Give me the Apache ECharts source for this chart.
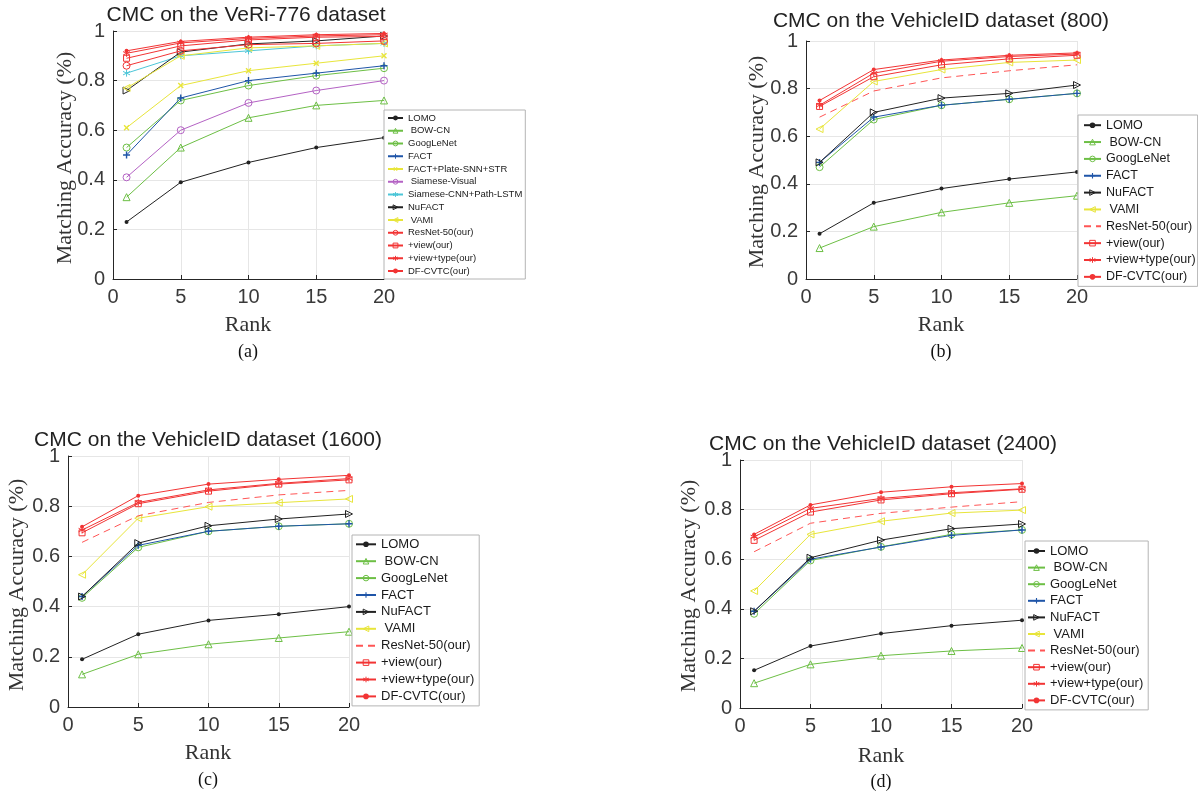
<!DOCTYPE html>
<html><head><meta charset="utf-8">
<script src="https://cdn.jsdelivr.net/npm/echarts@6/dist/echarts.min.js"></script>
<style>html,body{margin:0;padding:0;background:#fff}#c{width:1198px;height:796px}</style>
</head><body><div id="c"></div>
<script>
const ranks = [1, 5, 10, 15, 20];
const xTicks = [0, 5, 10, 15, 20];
const yTicks = [0, 0.2, 0.4, 0.6, 0.8, 1];

// (a) VeRi-776
const a_LOMO = [0.23, 0.39, 0.47, 0.53, 0.57];
const a_BOWCN = [0.33, 0.53, 0.65, 0.70, 0.72];
const a_GoogLeNet = [0.53, 0.72, 0.78, 0.82, 0.85];
const a_FACT = [0.50, 0.73, 0.80, 0.83, 0.86];
const a_FACTPlate = [0.61, 0.78, 0.84, 0.87, 0.90];
const a_SiameseVisual = [0.41, 0.60, 0.71, 0.76, 0.80];
const a_SiameseCNN = [0.83, 0.90, 0.92, 0.94, 0.95];
const a_NuFACT = [0.76, 0.915, 0.948, 0.96, 0.98];
const a_VAMI = [0.77, 0.90, 0.932, 0.94, 0.95];
const a_ResNet = [0.86, 0.92, 0.945, 0.95, 0.96];
const a_View = [0.89, 0.94, 0.964, 0.975, 0.978];
const a_ViewType = [0.91, 0.952, 0.97, 0.98, 0.985];
const a_DFCVTC = [0.92, 0.958, 0.975, 0.985, 0.99];

// (b) VehicleID 800
const b_LOMO = [0.19, 0.32, 0.38, 0.42, 0.45];
const b_BOWCN = [0.13, 0.22, 0.28, 0.32, 0.35];
const b_GoogLeNet = [0.47, 0.67, 0.73, 0.755, 0.78];
const b_FACT = [0.49, 0.68, 0.73, 0.755, 0.78];
const b_NuFACT = [0.49, 0.70, 0.76, 0.78, 0.815];
const b_VAMI = [0.63, 0.83, 0.88, 0.91, 0.92];
const b_ResNet = [0.68, 0.79, 0.845, 0.875, 0.90];
const b_View = [0.725, 0.85, 0.90, 0.925, 0.94];
const b_ViewType = [0.73, 0.865, 0.915, 0.935, 0.945];
const b_DFCVTC = [0.75, 0.88, 0.92, 0.94, 0.95];

// (c) VehicleID 1600
const c_LOMO = [0.19, 0.29, 0.345, 0.37, 0.40];
const c_BOWCN = [0.13, 0.21, 0.25, 0.275, 0.30];
const c_GoogLeNet = [0.435, 0.636, 0.70, 0.72, 0.73];
const c_FACT = [0.44, 0.644, 0.70, 0.72, 0.73];
const c_NuFACT = [0.44, 0.653, 0.722, 0.749, 0.769];
const c_VAMI = [0.527, 0.752, 0.798, 0.814, 0.829];
const c_ResNet = [0.656, 0.762, 0.815, 0.845, 0.863];
const c_View = [0.694, 0.81, 0.86, 0.888, 0.905];
const c_ViewType = [0.705, 0.815, 0.865, 0.891, 0.91];
const c_DFCVTC = [0.718, 0.842, 0.888, 0.907, 0.923];

// (d) VehicleID 2400
const d_LOMO = [0.152, 0.25, 0.30, 0.332, 0.354];
const d_BOWCN = [0.10, 0.176, 0.211, 0.23, 0.242];
const d_GoogLeNet = [0.38, 0.595, 0.65, 0.70, 0.718];
const d_FACT = [0.39, 0.60, 0.649, 0.696, 0.718];
const d_NuFACT = [0.39, 0.606, 0.677, 0.723, 0.742];
const d_VAMI = [0.472, 0.70, 0.753, 0.786, 0.798];
const d_ResNet = [0.63, 0.745, 0.785, 0.81, 0.832];
const d_View = [0.676, 0.79, 0.839, 0.864, 0.882];
const d_ViewType = [0.69, 0.805, 0.845, 0.868, 0.884];
const d_DFCVTC = [0.70, 0.819, 0.87, 0.892, 0.905];

const titles = ['CMC on the VeRi-776 dataset', 'CMC on the VehicleID dataset (800)',
  'CMC on the VehicleID dataset (1600)', 'CMC on the VehicleID dataset (2400)'];
const captions = ['(a)', '(b)', '(c)', '(d)'];

const BLACK = '#222222', GREEN = '#6dbf45', BLUE = '#1f55a8', YELLOW = '#e8e53a',
  PURPLE = '#b462c4', CYAN = '#4cc6d8', RED = '#f23434';
const PLUS = 'path://M4,0h2v4h4v2h-4v4h-2v-4h-4v-2h4z';
const ASTER = 'path://M5,0L5,10M0.7,2.5L9.3,7.5M0.7,7.5L9.3,2.5';

const STYLE = {
  'LOMO': {c: BLACK, sym: 'circle', size: 4, fill: true},
  ' BOW-CN': {c: GREEN, sym: 'triangle', size: 7},
  'GoogLeNet': {c: GREEN, sym: 'circle', size: 7},
  'FACT': {c: BLUE, sym: PLUS, size: 7, fill: true},
  'FACT+Plate-SNN+STR': {c: YELLOW, sym: PLUS, size: 7, fill: true, rot: 45},
  ' Siamese-Visual': {c: PURPLE, sym: 'circle', size: 7},
  'Siamese-CNN+Path-LSTM': {c: CYAN, sym: ASTER, size: 7},
  'NuFACT': {c: BLACK, sym: 'triangle', size: 7, rot: -90},
  ' VAMI': {c: YELLOW, sym: 'triangle', size: 7, rot: 90},
  'ResNet-50(our)': {c: RED, sym: 'circle', size: 7},
  '+view(our)': {c: RED, sym: 'rect', size: 6},
  '+view+type(our)': {c: RED, sym: ASTER, size: 7},
  'DF-CVTC(our)': {c: RED, sym: 'circle', size: 4, fill: true}
};
const DASHED = {c: '#f55', sym: 'circle', size: 1, dashed: true, invisible: true};

const panels = [
  {key: 'a', items: [['LOMO', a_LOMO], [' BOW-CN', a_BOWCN], ['GoogLeNet', a_GoogLeNet], ['FACT', a_FACT],
    ['FACT+Plate-SNN+STR', a_FACTPlate], [' Siamese-Visual', a_SiameseVisual], ['Siamese-CNN+Path-LSTM', a_SiameseCNN],
    ['NuFACT', a_NuFACT], [' VAMI', a_VAMI], ['ResNet-50(our)', a_ResNet], ['+view(our)', a_View],
    ['+view+type(our)', a_ViewType], ['DF-CVTC(our)', a_DFCVTC]]},
  {key: 'b', items: [['LOMO', b_LOMO], [' BOW-CN', b_BOWCN], ['GoogLeNet', b_GoogLeNet], ['FACT', b_FACT],
    ['NuFACT', b_NuFACT], [' VAMI', b_VAMI], ['ResNet-50(our)', b_ResNet], ['+view(our)', b_View],
    ['+view+type(our)', b_ViewType], ['DF-CVTC(our)', b_DFCVTC]]},
  {key: 'c', items: [['LOMO', c_LOMO], [' BOW-CN', c_BOWCN], ['GoogLeNet', c_GoogLeNet], ['FACT', c_FACT],
    ['NuFACT', c_NuFACT], [' VAMI', c_VAMI], ['ResNet-50(our)', c_ResNet], ['+view(our)', c_View],
    ['+view+type(our)', c_ViewType], ['DF-CVTC(our)', c_DFCVTC]]},
  {key: 'd', items: [['LOMO', d_LOMO], [' BOW-CN', d_BOWCN], ['GoogLeNet', d_GoogLeNet], ['FACT', d_FACT],
    ['NuFACT', d_NuFACT], [' VAMI', d_VAMI], ['ResNet-50(our)', d_ResNet], ['+view(our)', d_View],
    ['+view+type(our)', d_ViewType], ['DF-CVTC(our)', d_DFCVTC]]}
];

// layout (pixels)
const grids = [
  {left: 113, top: 31, width: 271, height: 248},
  {left: 806, top: 41, width: 271, height: 238},
  {left: 68, top: 456, width: 281, height: 251},
  {left: 740, top: 460, width: 282, height: 248}
];
const legendPos = [
  {left: 384, top: 110, padding: [3, 3, 3, 3], itemWidth: 15, itemHeight: 6, itemGap: 2.75, fs: 9.5},
  {left: 1078, top: 115, padding: [3.7, 2, 3, 5], itemWidth: 17, itemHeight: 7, itemGap: 3.85, fs: 12.5},
  {left: 352, top: 535, padding: [2.8, 5, 3, 3], itemWidth: 20, itemHeight: 7, itemGap: 3.9, fs: 13},
  {left: 1025, top: 541, padding: [3.5, 5, 3, 2], itemWidth: 17, itemHeight: 7, itemGap: 3.6, fs: 13}
];
const titlePos = [[246, 15], [941, 21], [208, 440], [883, 444]];
const yNamePos = [[65, 158], [757, 162], [17, 585], [689, 586]];
const rankPos = [[248, 325], [941, 325], [208, 753], [881, 756]];
const capPos = [[248, 352], [941, 352], [208, 780], [881, 782]];

const SANS = "'Liberation Sans', Arial, sans-serif";
const SERIF = "'Liberation Serif', 'Times New Roman', serif";

const series = [], legends = [], xAxes = [], yAxes = [], graphics = [];
panels.forEach((p, i) => {
  const names = [];
  p.items.forEach(([label, vals], k) => {
    let st = STYLE[label];
    if (i > 0 && label === 'ResNet-50(our)') st = DASHED;
    const name = label + '|' + p.key;
    names.push(name);
    series.push({
      type: 'line', name, xAxisIndex: i, yAxisIndex: i,
      data: ranks.map((r, j) => [r, vals[j]]),
      symbol: st.sym, symbolSize: st.size, symbolRotate: st.rot || 0,
      showSymbol: true, animation: false, z: 2 + k * 0.01,
      emphasis: {disabled: true},
      lineStyle: {color: st.c, width: 1, type: st.dashed ? [7, 5] : 'solid'},
      itemStyle: st.invisible ? {color: 'rgba(0,0,0,0)', borderWidth: 0}
        : (st.fill ? {color: st.c} : {color: 'rgba(0,0,0,0)', borderColor: st.c, borderWidth: 1})
    });
  });
  const L = legendPos[i];
  legends.push({
    orient: 'vertical', left: L.left, top: L.top, padding: L.padding,
    itemWidth: L.itemWidth, itemHeight: L.itemHeight, itemGap: L.itemGap,
    data: names, formatter: n => n.split('|')[0], selectedMode: false,
    textStyle: {fontSize: L.fs, color: '#1a1a1a', fontFamily: SANS},
    borderColor: '#b4b4b4', borderWidth: 1, backgroundColor: '#fff', borderRadius: 0,
    itemStyle: {borderWidth: 1}
  });
  xAxes.push({
    gridIndex: i, type: 'value', min: xTicks[0], max: xTicks[xTicks.length - 1], interval: 5,
    axisLine: {show: true, onZero: false, lineStyle: {color: '#262626', width: 1}},
    axisTick: {show: true, inside: true, length: 4, lineStyle: {color: '#262626'}},
    axisLabel: {fontSize: 20, color: '#3a3a3a', margin: 8, fontFamily: SANS},
    splitLine: {show: true, lineStyle: {color: '#e6e6e6', width: 1}}
  });
  yAxes.push({
    gridIndex: i, type: 'value', min: yTicks[0], max: yTicks[yTicks.length - 1], interval: 0.2,
    axisLine: {show: true, onZero: false, lineStyle: {color: '#262626', width: 1}},
    axisTick: {show: true, inside: true, length: 4, lineStyle: {color: '#262626'}},
    axisLabel: {fontSize: 20, color: '#3a3a3a', margin: 8, fontFamily: SANS},
    splitLine: {show: true, lineStyle: {color: '#e6e6e6', width: 1}}
  });
  graphics.push({type: 'text', x: titlePos[i][0], y: titlePos[i][1], z: 10,
    style: {text: titles[i], font: '21px ' + SANS, fill: '#222', align: 'center', verticalAlign: 'middle'}});
  graphics.push({type: 'text', x: yNamePos[i][0], y: yNamePos[i][1], rotation: Math.PI / 2, z: 10,
    style: {text: 'Matching Accuracy (%)', font: '22px ' + SERIF, fill: '#333', align: 'center', verticalAlign: 'middle'}});
  graphics.push({type: 'text', x: rankPos[i][0], y: rankPos[i][1], z: 10,
    style: {text: 'Rank', font: '22px ' + SERIF, fill: '#333', align: 'center', verticalAlign: 'middle'}});
  graphics.push({type: 'text', x: capPos[i][0], y: capPos[i][1], z: 10,
    style: {text: captions[i], font: '18px ' + SERIF, fill: '#111', align: 'center', verticalAlign: 'middle'}});
});

const chart = echarts.init(document.getElementById('c'), null, {renderer: 'canvas'});
chart.setOption({
  backgroundColor: '#fff',
  animation: false,
  grid: grids.map(g => Object.assign({containLabel: false}, g)),
  xAxis: xAxes, yAxis: yAxes,
  legend: legends,
  series,
  graphic: graphics
});
</script></body></html>
